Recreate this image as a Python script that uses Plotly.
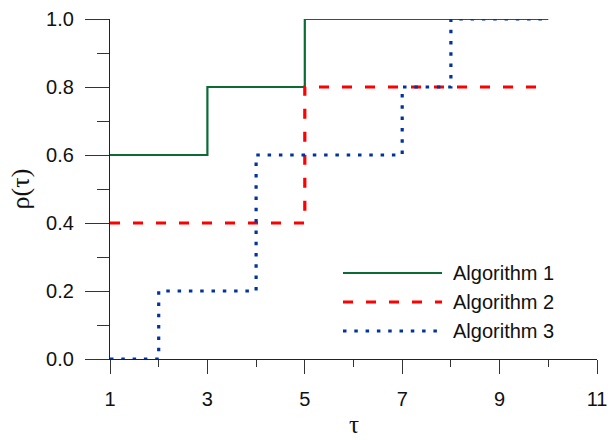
import plotly.graph_objects as go

# Performance profiles: fraction of problems solved within factor tau
tau = [1, 2, 3, 4, 5, 6, 7, 8, 9, 10]
alg1 = [0.6, 0.6, 0.8, 0.8, 1.0, 1.0, 1.0, 1.0, 1.0, 1.0]
alg2 = [0.4, 0.4, 0.4, 0.4, 0.8, 0.8, 0.8, 0.8, 0.8, 0.8]
alg3 = [0.0, 0.2, 0.2, 0.6, 0.6, 0.6, 0.8, 1.0, 1.0, 1.0]

names = ["Algorithm 1", "Algorithm 2", "Algorithm 3"]
colors = ["#0b6b35", "#ff0000", "#0033a0"]
widths = [2.2, 3.2, 3.2]
dashes = ["solid", "10px,13px", "3.5px,7.8px"]

x_ticks = [1, 3, 5, 7, 9, 11]
y_ticks = [0.0, 0.2, 0.4, 0.6, 0.8, 1.0]

FONT = "Liberation Sans, Arial, sans-serif"
SERIF = "Liberation Serif, Times New Roman, serif"

fig = go.Figure()
for name, ys, c, w, d in zip(names, [alg1, alg2, alg3], colors, widths, dashes):
    fig.add_trace(go.Scatter(
        x=tau, y=ys, name=name, mode="lines", line_shape="hv",
        line=dict(color=c, width=w, dash=d), showlegend=False,
        cliponaxis=False,
    ))

# Legend drawn as line samples with labels, inside the plot area
px0, px1 = (343 - 110) / 487, (442 - 110) / 487
row_y = [(359 - 273) / 340, (359 - 302) / 340, (359 - 331) / 340]
for name, c, w, d, yy in zip(names, colors, widths, dashes, row_y):
    fig.add_shape(type="line", xref="paper", yref="paper",
                  x0=px0, x1=px1, y0=yy, y1=yy,
                  line=dict(color=c, width=w, dash=d))
    fig.add_annotation(xref="paper", yref="paper", x=(451 - 110) / 487, y=yy,
                       text=name, showarrow=False, xanchor="left", yanchor="middle",
                       font=dict(family=FONT, size=20, color="#111"))

# x-axis title placed below the tick labels, resting on the bottom edge
fig.add_annotation(xref="paper", yref="paper", x=0.5, y=(359 - 440) / 340,
                   text="τ", showarrow=False, xanchor="center", yanchor="bottom",
                   font=dict(family=SERIF, size=25, color="#111"))

axis_common = dict(
    showgrid=False, zeroline=False, showline=True, linecolor="#222", linewidth=1.2,
    ticks="outside", tickcolor="#333", tickwidth=1.2, automargin=False,
    tickfont=dict(family=FONT, size=20, color="#111"),
)

fig.update_xaxes(
    range=[1, 11], tickvals=x_ticks, ticktext=[str(v) for v in x_ticks],
    ticklen=14, ticklabelstandoff=8,
    minor=dict(tickvals=[2, 4, 6, 8, 10], ticklen=7, tickcolor="#333", tickwidth=1.2, ticks="outside"),
    **axis_common,
)
fig.update_yaxes(
    range=[0, 1], tickvals=y_ticks, ticktext=[f"{v:.1f}" for v in y_ticks],
    ticklen=24, ticklabelstandoff=7,
    minor=dict(tickvals=[0.1, 0.3, 0.5, 0.7, 0.9], ticklen=12, tickcolor="#333", tickwidth=1.2, ticks="outside"),
    title=dict(text="ρ(τ)", font=dict(family=SERIF, size=26, color="#111"), standoff=8),
    **axis_common,
)

fig.update_layout(
    width=614, height=440,
    margin=dict(l=110, r=17, t=19, b=81),
    paper_bgcolor="white", plot_bgcolor="white",
)

fig.write_html("out.html")
